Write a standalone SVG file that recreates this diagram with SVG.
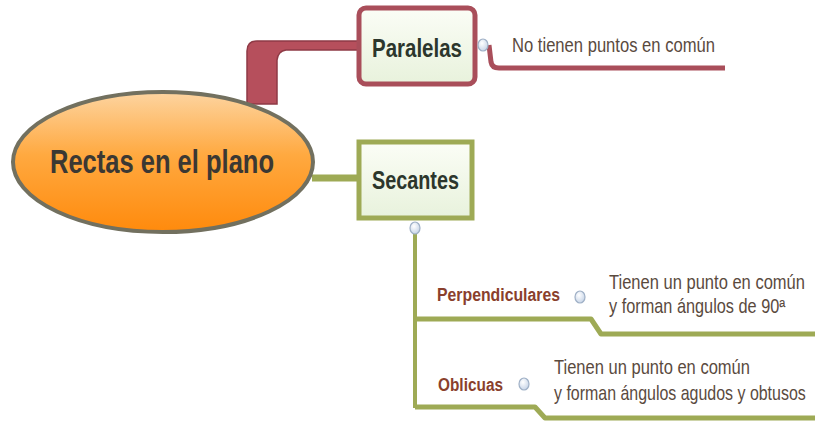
<svg xmlns="http://www.w3.org/2000/svg" width="815" height="426" viewBox="0 0 815 426">
  <defs>
    <linearGradient id="gOrange" x1="0" y1="0" x2="0" y2="1">
      <stop offset="0" stop-color="#fdd4a0"/>
      <stop offset="0.45" stop-color="#ffa940"/>
      <stop offset="1" stop-color="#ff8a0c"/>
    </linearGradient>
    <linearGradient id="gBox" x1="0" y1="0" x2="0" y2="1">
      <stop offset="0" stop-color="#fbfdf6"/>
      <stop offset="1" stop-color="#e8f2dc"/>
    </linearGradient>
    <radialGradient id="gBtn" cx="0.4" cy="0.35" r="0.7">
      <stop offset="0" stop-color="#ffffff"/>
      <stop offset="1" stop-color="#c4d2e6"/>
    </radialGradient>
    <style>
      .lbl { font-family: "Liberation Sans", Arial, sans-serif; }
      .main { font-size: 33px; font-weight: bold; fill: #3b3833; }
      .box { font-size: 26px; font-weight: bold; fill: #2c362c; }
      .sub { font-size: 18px; font-weight: bold; fill: #8a3f2c; }
      .note { font-size: 20px; fill: #5a4a3e; }
      .btn { fill: url(#gBtn); stroke: #9fb0c6; stroke-width: 1.2; }
      .red { fill: none; stroke: #a94e5a; stroke-linejoin: round; }
      .olive { fill: none; stroke: #9eaa55; stroke-linejoin: round; }
    </style>
  </defs>

  <g id="connectors">
    <!-- root to Paralelas -->
    <path d="M247,104 L247,51 Q247,41 257,41 L359,41 L359,50 L286,50 Q278,51 277,60 L277,104 Z" fill="#b64f5c" stroke="#8f3a46" stroke-width="1.5"/>
    <!-- root to Secantes -->
    <path class="olive" d="M312,178 L359,178" stroke-width="7"/>
    <!-- Paralelas to note -->
    <path class="red" d="M489,45 L491,62 Q492,68 499,68 L725,68" stroke-width="5"/>
    <!-- Secantes trunk -->
    <path class="olive" d="M415,232 L415,408" stroke-width="4"/>
    <!-- Perpendiculares branch -->
    <path class="olive" d="M415,319 L591,319 L601,334 L815,334" stroke-width="5"/>
    <!-- Oblicuas branch -->
    <path class="olive" d="M415,407 L535,407 L545,418 L815,418" stroke-width="5"/>
  </g>

  <g id="root">
    <ellipse cx="163" cy="162" rx="150" ry="70" fill="url(#gOrange)" stroke="#72705f" stroke-width="4"/>
    <text class="lbl main" x="162" y="173" text-anchor="middle" textLength="224" lengthAdjust="spacingAndGlyphs">Rectas en el plano</text>
  </g>

  <g id="paralelas">
    <rect x="359" y="8" width="116" height="76" rx="7" fill="url(#gBox)" stroke="#a94e5a" stroke-width="5"/>
    <text class="lbl box" x="372" y="57" textLength="90" lengthAdjust="spacingAndGlyphs">Paralelas</text>
    <ellipse class="btn" cx="483" cy="45" rx="5" ry="6"/>
  </g>

  <g id="no-tienen">
    <text class="lbl note" x="512" y="52" textLength="203" lengthAdjust="spacingAndGlyphs">No tienen puntos en común</text>
  </g>

  <g id="secantes">
    <rect x="359" y="142" width="113" height="76" fill="url(#gBox)" stroke="#9eaa55" stroke-width="5"/>
    <text class="lbl box" x="372" y="189" textLength="87" lengthAdjust="spacingAndGlyphs">Secantes</text>
    <ellipse class="btn" cx="415" cy="228" rx="5" ry="6"/>
  </g>

  <g id="perpendiculares">
    <text class="lbl sub" x="437" y="301" textLength="123" lengthAdjust="spacingAndGlyphs">Perpendiculares</text>
    <ellipse class="btn" cx="580" cy="297" rx="5" ry="6"/>
  </g>

  <g id="perp-note">
    <text class="lbl note" transform="translate(609,289) scale(0.82,1)" x="0" y="0" textLength="239" lengthAdjust="spacingAndGlyphs">Tienen un punto en común</text>
    <text class="lbl note" transform="translate(609,313) scale(0.82,1)" x="0" y="0" textLength="215" lengthAdjust="spacingAndGlyphs">y forman ángulos de 90ª</text>
  </g>

  <g id="oblicuas">
    <text class="lbl sub" x="438" y="391" textLength="65" lengthAdjust="spacingAndGlyphs">Oblicuas</text>
    <ellipse class="btn" cx="524" cy="384" rx="5" ry="6"/>
  </g>

  <g id="obl-note">
    <text class="lbl note" transform="translate(554,374) scale(0.82,1)" x="0" y="0" textLength="239" lengthAdjust="spacingAndGlyphs">Tienen un punto en común</text>
    <text class="lbl note" transform="translate(554,400) scale(0.82,1)" x="0" y="0" textLength="307" lengthAdjust="spacingAndGlyphs">y forman ángulos agudos y obtusos</text>
  </g>
</svg>
